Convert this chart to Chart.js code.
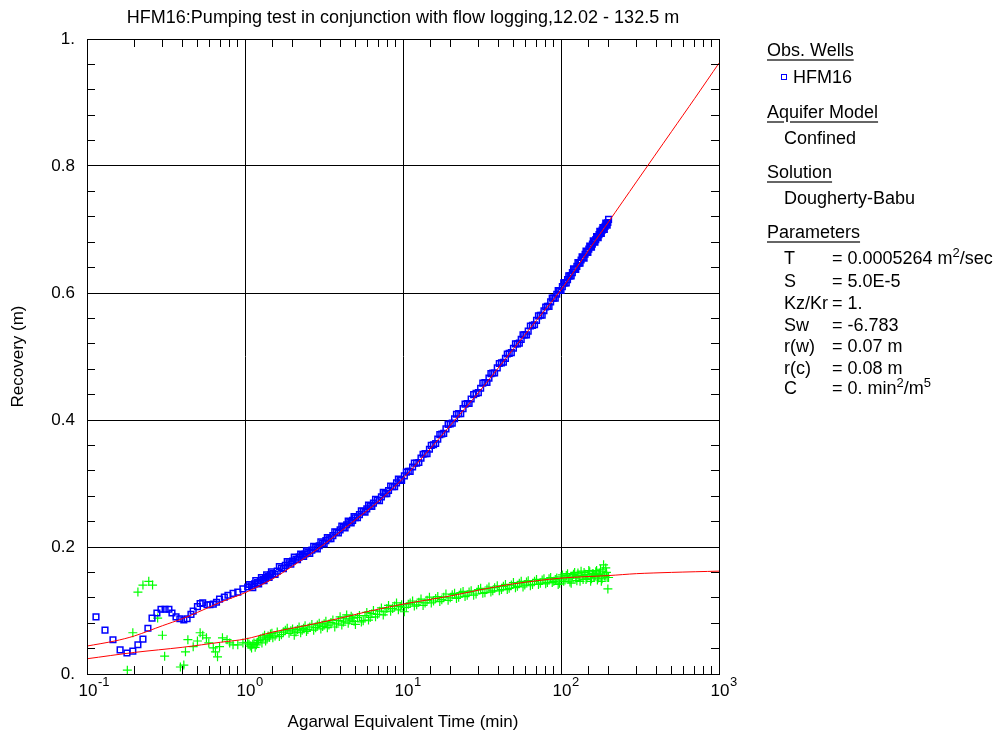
<!DOCTYPE html>
<html>
<head>
<meta charset="utf-8">
<title>HFM16 recovery</title>
<script src="https://cdn.jsdelivr.net/npm/chart.js@4.4.1/dist/chart.umd.min.js"></script>
<style>
    body { margin: 0; background: #fff; }
    #wrap { position: relative; width: 998px; height: 738px; font-family: 'Liberation Sans', Arial, sans-serif; color: #000; }
    #wrap canvas { position: absolute; left: 0; top: 0; }
    .lg { position: absolute; font-size: 18px; line-height: 20px; white-space: nowrap; }
    .hd { text-decoration: underline; text-decoration-color: #666; text-decoration-thickness: 2px; text-underline-offset: 3px; }
    .lg sup { font-size: 13px; line-height: 0; vertical-align: 7px; }
    #mark { position: absolute; left: 781px; top: 74px; width: 6px; height: 6px; box-sizing: border-box; border: 1px solid #0000ff; }
</style>
</head>
<body>
<div id="wrap">
    <canvas id="chart" width="998" height="738"></canvas>

    <div class="lg hd" style="left:767px; top:40px;">Obs. Wells</div>
    <div id="mark"></div>
    <div class="lg" style="left:793px; top:67px;">HFM16</div>
    <div class="lg hd" style="left:767px; top:102px;">Aquifer Model</div>
    <div class="lg" style="left:784px; top:128px;">Confined</div>
    <div class="lg hd" style="left:767px; top:162px;">Solution</div>
    <div class="lg" style="left:784px; top:188px;">Dougherty-Babu</div>
    <div class="lg hd" style="left:767px; top:222px;">Parameters</div>

    <div class="lg" style="left:784px; top:248px;">T</div>
    <div class="lg" style="left:832px; top:248px;">= 0.0005264 m<sup>2</sup>/sec</div>
    <div class="lg" style="left:784px; top:271px;">S</div>
    <div class="lg" style="left:832px; top:271px;">= 5.0E-5</div>
    <div class="lg" style="left:784px; top:293px;">Kz/Kr</div>
    <div class="lg" style="left:832px; top:293px;">= 1.</div>
    <div class="lg" style="left:784px; top:315px;">Sw</div>
    <div class="lg" style="left:832px; top:315px;">= -6.783</div>
    <div class="lg" style="left:784px; top:336px;">r(w)</div>
    <div class="lg" style="left:832px; top:336px;">= 0.07 m</div>
    <div class="lg" style="left:784px; top:358px;">r(c)</div>
    <div class="lg" style="left:832px; top:358px;">= 0.08 m</div>
    <div class="lg" style="left:784px; top:378px;">C</div>
    <div class="lg" style="left:832px; top:378px;">= 0. min<sup>2</sup>/m<sup>5</sup></div>
</div>

<script>
// observed recovery, HFM16 (blue squares)
const obsTime = [
    0.114, 0.130, 0.146, 0.162, 0.179, 0.195, 0.210, 0.226, 0.243, 0.258,
    0.277, 0.294, 0.312, 0.330, 0.345, 0.366, 0.387, 0.410, 0.430, 0.455,
    0.470, 0.500, 0.520, 0.540, 0.575, 0.600, 0.630, 0.660, 0.690, 0.740,
    0.780, 0.840, 0.900, 0.970, 1.04,
    1.1, 1.15, 1.2, 1.25, 1.3, 1.35, 1.4, 1.45, 1.5, 1.6,
    1.7, 1.8, 1.9, 2.0, 2.1, 2.2, 2.3, 2.4, 2.5, 2.65,
    2.8, 2.95, 3.1, 3.25, 3.4, 3.6, 3.8, 4.0, 4.2, 4.4,
    4.6, 4.8, 5.0, 5.3, 5.6, 5.9, 6.2, 6.5, 6.9, 7.3,
    7.7, 8.1, 8.6, 9.1, 9.6, 10.2, 10.8, 11.5, 12.2, 13,
    13.8, 14.7, 15.6, 16.6, 17.6, 18.7, 19.9, 21.2, 22.5, 24,
    25.5, 27, 29, 31, 33, 35, 37, 39.5, 42, 44.5,
    47, 50, 53, 56, 59, 62, 66, 70, 74, 78,
    82, 86, 90, 94, 98, 102, 106, 110, 114, 118,
    122, 126, 130, 134, 138, 142, 146, 150, 154, 158,
    162, 166, 170, 174, 178, 182, 186, 190, 194, 198,
    1.07, 1.12, 1.17, 1.22, 1.27, 1.32, 1.37, 1.42, 1.47, 1.55,
    1.65, 1.75, 1.85, 1.95, 2.05, 2.15, 2.25, 2.35, 2.45, 2.57,
    2.72, 2.87, 3.02, 3.17, 3.32, 3.5, 3.7, 3.9, 4.1, 4.3,
    4.5, 4.7, 4.9, 5.15, 5.45, 5.75, 6.05, 6.35, 6.7, 7.1,
    7.5, 7.9, 8.35, 8.85, 9.35, 9.8, 10.5, 11.1, 11.8, 12.6,
    13.4, 14.2, 15.1, 16.1, 17.1, 18.1, 19.3, 20.5, 21.8, 23.2,
    24.7, 26.2, 28, 30, 32, 34, 36, 38, 40.7, 43.2,
    45.7, 48.5, 51.5, 54.5, 57.5, 60.5, 64, 68, 72, 76,
    80, 84, 88, 92, 96, 100, 104, 108, 112, 116,
    120, 124, 128, 132, 136, 140, 144, 148, 152, 156,
    160, 164, 168, 172, 176, 180, 184, 188, 192, 196,
    200
];
const obsRecovery = [
    0.090, 0.069, 0.054, 0.038, 0.033, 0.036, 0.046, 0.055, 0.072, 0.088,
    0.096, 0.102, 0.102, 0.102, 0.096, 0.090, 0.087, 0.085, 0.087, 0.094,
    0.099, 0.106, 0.111, 0.112, 0.109, 0.109, 0.110, 0.113, 0.118, 0.121,
    0.124, 0.127, 0.129, 0.134, 0.137,
    0.139, 0.142, 0.144, 0.147, 0.149, 0.151, 0.154, 0.156, 0.158, 0.162,
    0.167, 0.171, 0.175, 0.178, 0.181, 0.184, 0.187, 0.189, 0.192, 0.195,
    0.199, 0.202, 0.206, 0.210, 0.213, 0.218, 0.223, 0.227, 0.231, 0.235,
    0.239, 0.242, 0.246, 0.251, 0.256, 0.260, 0.265, 0.269, 0.274, 0.279,
    0.284, 0.289, 0.295, 0.301, 0.306, 0.312, 0.319, 0.326, 0.332, 0.340,
    0.347, 0.354, 0.361, 0.370, 0.378, 0.386, 0.394, 0.402, 0.410, 0.418,
    0.426, 0.433, 0.442, 0.450, 0.459, 0.466, 0.474, 0.482, 0.490, 0.497,
    0.505, 0.513, 0.520, 0.527, 0.534, 0.540, 0.549, 0.557, 0.565, 0.572,
    0.579, 0.586, 0.592, 0.598, 0.604, 0.610, 0.616, 0.621, 0.627, 0.632,
    0.637, 0.642, 0.647, 0.652, 0.656, 0.661, 0.665, 0.669, 0.673, 0.677,
    0.681, 0.684, 0.688, 0.692, 0.695, 0.699, 0.702, 0.705, 0.708, 0.711,
    0.141, 0.136, 0.147, 0.142, 0.152, 0.147, 0.156, 0.152, 0.161, 0.157,
    0.169, 0.166, 0.177, 0.173, 0.184, 0.180, 0.189, 0.185, 0.194, 0.190,
    0.201, 0.197, 0.208, 0.205, 0.215, 0.213, 0.224, 0.222, 0.233, 0.230,
    0.241, 0.238, 0.248, 0.246, 0.257, 0.255, 0.266, 0.264, 0.275, 0.273,
    0.286, 0.284, 0.296, 0.295, 0.307, 0.305, 0.318, 0.319, 0.332, 0.333,
    0.346, 0.347, 0.360, 0.363, 0.377, 0.379, 0.393, 0.395, 0.409, 0.410,
    0.425, 0.426, 0.440, 0.443, 0.458, 0.459, 0.473, 0.474, 0.489, 0.491,
    0.504, 0.506, 0.520, 0.521, 0.534, 0.534, 0.548, 0.550, 0.564, 0.565,
    0.578, 0.579, 0.592, 0.592, 0.604, 0.604, 0.616, 0.616, 0.627, 0.627,
    0.638, 0.637, 0.648, 0.647, 0.657, 0.655, 0.666, 0.664, 0.674, 0.672,
    0.682, 0.680, 0.689, 0.687, 0.697, 0.694, 0.703, 0.700, 0.710, 0.707,
    0.716
];

// second record (green crosses)
const obs2Time = [
    0.180, 0.195, 0.210, 0.226, 0.246, 0.260, 0.280, 0.300, 0.310, 0.390,
    0.410, 0.420, 0.435, 0.470, 0.500, 0.520, 0.540, 0.570, 0.590, 0.630,
    0.650, 0.670, 0.690, 0.720, 0.770, 0.800, 0.840, 0.900, 0.970, 1.04,
    1.08, 1.12, 1.16, 1.2, 1.25, 1.3, 1.35, 1.4, 1.45, 1.5,
    1.6, 1.7, 1.8, 1.9, 2.0, 2.1, 2.2, 2.3, 2.4, 2.5,
    2.65, 2.8, 2.95, 3.1, 3.25, 3.4, 3.6, 3.8, 4.0, 4.2,
    4.4, 4.6, 4.8, 5.0, 5.3, 5.6, 5.9, 6.2, 6.5, 6.9,
    7.3, 7.7, 8.1, 8.6, 9.1, 9.6, 10.2, 10.8, 11.5, 12.2,
    13, 13.8, 14.7, 15.6, 16.6, 17.6, 18.7, 19.9, 21.2, 22.5,
    24, 25.5, 27, 29, 31, 33, 35, 37, 39.5, 42,
    44.5, 47, 50, 53, 56, 59, 62, 66, 70, 74,
    78, 82, 86, 90, 94, 98, 102, 106, 110, 114,
    118, 122, 126, 130, 134, 138, 142, 146, 150, 154,
    158, 162, 166, 170, 174, 178, 182, 186, 190, 194,
    198, 200,
    1.06, 1.1, 1.14, 1.18, 1.22, 1.28, 1.33, 1.38, 1.43, 1.48,
    1.55, 1.65, 1.75, 1.85, 1.95, 2.05, 2.15, 2.25, 2.35, 2.45,
    2.57, 2.72, 2.87, 3.02, 3.17, 3.32, 3.5, 3.7, 3.9, 4.1,
    4.3, 4.5, 4.7, 4.9, 5.15, 5.45, 5.75, 6.05, 6.35, 6.7,
    7.1, 7.5, 7.9, 8.35, 8.85, 9.35, 9.8, 10.5, 11.1, 11.8,
    12.6, 13.4, 14.2, 15.1, 16.1, 17.1, 18.1, 19.3, 20.5, 21.8,
    23.2, 24.7, 26.2, 28, 30, 32, 34, 36, 38, 40.7,
    43.2, 45.7, 48.5, 51.5, 54.5, 57.5, 60.5, 64, 68, 72,
    76, 80, 84, 88, 92, 96, 100, 104, 108, 112,
    116, 120, 124, 128, 132, 136, 140, 144, 148, 152,
    156, 160, 164, 168, 172, 176, 180, 184, 188, 192,
    196
];
const obs2Recovery = [
    0.006, 0.065, 0.129, 0.140, 0.146, 0.140, 0.088, 0.061, 0.028, 0.011,
    0.014, 0.035, 0.054, 0.043, 0.052, 0.065, 0.061, 0.057, 0.049, 0.041,
    0.035, 0.027, 0.043, 0.057, 0.054, 0.049, 0.046, 0.046, 0.049, 0.050,
    0.044, 0.047, 0.042, 0.050, 0.055, 0.058, 0.052, 0.060, 0.063, 0.057,
    0.066, 0.062, 0.069, 0.064, 0.071, 0.066, 0.074, 0.069, 0.076, 0.070,
    0.078, 0.073, 0.080, 0.075, 0.083, 0.077, 0.085, 0.079, 0.090, 0.082,
    0.093, 0.085, 0.088, 0.078, 0.092, 0.084, 0.097, 0.089, 0.100, 0.094,
    0.104, 0.098, 0.108, 0.103, 0.112, 0.106, 0.098, 0.110, 0.115, 0.109,
    0.118, 0.112, 0.121, 0.115, 0.122, 0.117, 0.126, 0.120, 0.127, 0.121,
    0.130, 0.124, 0.131, 0.126, 0.135, 0.128, 0.137, 0.131, 0.139, 0.133,
    0.141, 0.135, 0.144, 0.138, 0.146, 0.140, 0.147, 0.141, 0.149, 0.143,
    0.150, 0.144, 0.152, 0.146, 0.151, 0.143, 0.156, 0.148, 0.158, 0.145,
    0.154, 0.160, 0.147, 0.155, 0.162, 0.149, 0.157, 0.151, 0.163, 0.146,
    0.158, 0.153, 0.161, 0.148, 0.157, 0.165, 0.150, 0.172, 0.154, 0.160,
    0.134, 0.152,
    0.047, 0.041, 0.049, 0.046, 0.053, 0.049, 0.061, 0.055, 0.058, 0.064,
    0.060, 0.059, 0.066, 0.072, 0.068, 0.061, 0.070, 0.065, 0.072, 0.067,
    0.074, 0.069, 0.077, 0.071, 0.079, 0.073, 0.081, 0.074, 0.084, 0.077,
    0.087, 0.080, 0.091, 0.083, 0.089, 0.082, 0.092, 0.085, 0.095, 0.090,
    0.099, 0.093, 0.103, 0.099, 0.107, 0.101, 0.109, 0.105, 0.112, 0.107,
    0.113, 0.108, 0.116, 0.112, 0.119, 0.114, 0.121, 0.116, 0.125, 0.119,
    0.128, 0.122, 0.129, 0.124, 0.133, 0.127, 0.134, 0.129, 0.136, 0.131,
    0.138, 0.133, 0.140, 0.136, 0.143, 0.137, 0.145, 0.139, 0.146, 0.141,
    0.148, 0.142, 0.150, 0.144, 0.149, 0.141, 0.153, 0.146, 0.155, 0.150,
    0.143, 0.157, 0.151, 0.159, 0.146, 0.154, 0.160, 0.149, 0.156, 0.161,
    0.150, 0.158, 0.155, 0.163, 0.151, 0.159, 0.146, 0.162, 0.155, 0.167,
    0.152
];

// Dougherty-Babu type curves (red)
const fitTime = [0.1, 0.15, 0.2, 0.3, 0.4, 0.5, 0.7, 1, 1.5, 2, 3, 4, 5, 7, 10, 15, 20, 30, 50, 70, 100, 150, 200, 300, 500, 700, 1000];
const fitRecovery = [0.044, 0.052, 0.060, 0.076, 0.087, 0.097, 0.113, 0.128, 0.150, 0.170, 0.200, 0.224, 0.243, 0.272, 0.308, 0.356, 0.392, 0.443, 0.512, 0.557, 0.605, 0.668, 0.712, 0.775, 0.854, 0.906, 0.962];
const fit2Time = [0.1, 0.2, 0.4, 0.7, 1, 1.5, 2.5, 4, 6.4, 10, 20, 30, 50, 100, 200, 300, 500, 1000];
const fit2Recovery = [0.024, 0.034, 0.042, 0.050, 0.055, 0.066, 0.077, 0.088, 0.100, 0.110, 0.123, 0.132, 0.142, 0.151, 0.155, 0.158, 0.160, 0.162];

const yMinorStep = 0.04;

function toPoints(xs, ys) {
    return xs.map(function(x, i) { return {x: x, y: ys[i]}; });
}

function isDecade(v) {
    const l = Math.log10(v);
    return Math.abs(l - Math.round(l)) < 1e-6;
}

Chart.defaults.font.family = "'Liberation Sans', Arial, sans-serif";
Chart.defaults.font.size = 17;
Chart.defaults.color = '#000';

// box, inward ticks and the 10^n labels
const framePlugin = {
    id: 'frame',
    afterDraw(chart) {
        const ctx = chart.ctx;
        const a = chart.chartArea;
        const xs = chart.scales.x;
        const ys = chart.scales.y;

        ctx.save();
        ctx.strokeStyle = '#000';
        ctx.lineWidth = 1;
        ctx.beginPath();
        xs.ticks.forEach(function(t) {
            const px = Math.round(xs.getPixelForValue(t.value) - 0.5) + 0.5;
            const len = isDecade(t.value) ? 16 : 8;
            ctx.moveTo(px, a.bottom);
            ctx.lineTo(px, a.bottom - len);
            ctx.moveTo(px, a.top);
            ctx.lineTo(px, a.top + len);
        });
        for (let i = 0; i * yMinorStep <= 1.0001; i++) {
            const v = i * yMinorStep;
            const py = Math.round(ys.getPixelForValue(v) - 0.5) + 0.5;
            const len = (i % 5 === 0) ? 16 : 8;
            ctx.moveTo(a.left, py);
            ctx.lineTo(a.left + len, py);
            ctx.moveTo(a.right, py);
            ctx.lineTo(a.right - len, py);
        }
        ctx.stroke();
        ctx.strokeRect(Math.round(a.left - 0.5) + 0.5, Math.round(a.top - 0.5) + 0.5,
                       Math.round(a.right - a.left), Math.round(a.bottom - a.top));

        ctx.fillStyle = '#000';
        ctx.textBaseline = 'middle';
        xs.ticks.forEach(function(t) {
            if (!isDecade(t.value)) return;
            const px = xs.getPixelForValue(t.value);
            const exp = Math.round(Math.log10(t.value));
            ctx.font = "17px 'Liberation Sans', Arial, sans-serif";
            ctx.textAlign = 'center';
            ctx.fillText('10', px + 1, a.bottom + 17);
            ctx.font = "13px 'Liberation Sans', Arial, sans-serif";
            ctx.textAlign = 'left';
            ctx.fillText(String(exp), px + 11, a.bottom + 8);
        });
        ctx.restore();
    }
};

const ctx = document.getElementById('chart').getContext('2d');
const recoveryChart = new Chart(ctx, {
    type: 'scatter',
    data: {
        datasets: [
            {
                label: 'fit HFM16',
                data: toPoints(fitTime, fitRecovery),
                showLine: true,
                borderColor: '#ff0000',
                borderWidth: 1,
                pointRadius: 0,
                tension: 0.3
            },
            {
                label: 'fit 2',
                data: toPoints(fit2Time, fit2Recovery),
                showLine: true,
                borderColor: '#ff0000',
                borderWidth: 1,
                pointRadius: 0,
                tension: 0.3
            },
            {
                label: 'HFM16',
                data: toPoints(obsTime, obsRecovery),
                pointStyle: 'rect',
                pointRadius: 4,
                borderColor: '#0000ff',
                backgroundColor: 'rgba(0,0,0,0)',
                borderWidth: 1.5
            },
            {
                label: 'record 2',
                data: toPoints(obs2Time, obs2Recovery),
                pointStyle: 'cross',
                pointRadius: 4.5,
                borderColor: '#00ff00',
                backgroundColor: '#00ff00',
                borderWidth: 1.2
            }
        ]
    },
    options: {
        responsive: false,
        animation: false,
        events: [],
        layout: {
            padding: { left: 0, right: 279, top: 0, bottom: 0 }
        },
        plugins: {
            legend: { display: false },
            tooltip: { enabled: false },
            title: {
                display: true,
                fullSize: false,
                text: 'HFM16:Pumping test in conjunction with flow logging,12.02 - 132.5 m',
                color: '#000',
                font: { size: 18, weight: 'normal', lineHeight: 1.2 },
                padding: { top: 7.2, bottom: 10.2 }
            }
        },
        scales: {
            x: {
                type: 'logarithmic',
                min: 0.1,
                max: 1000,
                afterFit: function(scale) { scale.height = 64; },
                ticks: { display: false },
                grid: {
                    drawTicks: false,
                    color: function(c) { return (c.tick && isDecade(c.tick.value)) ? '#000' : 'rgba(0,0,0,0)'; },
                    lineWidth: 1
                },
                border: { display: false },
                title: {
                    display: true,
                    text: 'Agarwal Equivalent Time (min)',
                    font: { size: 17, lineHeight: 1.2 },
                    padding: { top: 0, bottom: 5.8 }
                }
            },
            y: {
                min: 0,
                max: 1,
                afterFit: function(scale) { scale.width = 87; },
                ticks: {
                    stepSize: 0.2,
                    padding: 12,
                    callback: function(v) {
                        if (Math.abs(v) < 1e-9) return '0.';
                        if (Math.abs(v - 1) < 1e-9) return '1.';
                        return v.toFixed(1);
                    }
                },
                grid: { drawTicks: false, color: '#000', lineWidth: 1 },
                border: { display: false },
                title: {
                    display: true,
                    text: 'Recovery (m)',
                    font: { size: 17, lineHeight: 1.2 },
                    padding: { top: 7.8, bottom: 0 }
                }
            }
        }
    },
    plugins: [framePlugin]
});
</script>
</body>
</html>
